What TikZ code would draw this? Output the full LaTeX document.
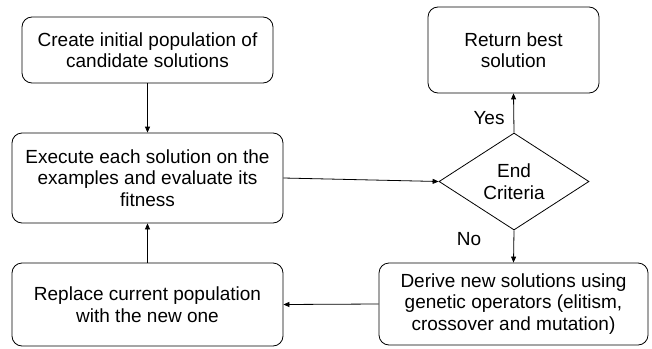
\documentclass[tikz,border=0pt]{standalone}
\usepackage{fontspec}
\setmainfont{Liberation Sans}
\usetikzlibrary{shapes.geometric,arrows.meta}
\begin{document}
\begin{tikzpicture}[x=1pt,y=-1pt,
  box/.style={draw,rounded corners=10pt,line width=0.8pt,align=center,inner sep=0pt,
    font=\fontsize{19}{21.5}\selectfont},
  lbl/.style={font=\fontsize{19}{21.5}\selectfont},
  arr/.style={-{Triangle[length=6pt,width=5pt]},line width=0.8pt}]
\useasboundingbox (0,0) rectangle (652,348);
\node[box,minimum width=251pt,minimum height=66pt] (create) at (147.5,50) {Create initial population of\\candidate solutions};
\node[box,minimum width=271pt,minimum height=90pt] (exec) at (147.5,178) {Execute each solution on the\\examples and evaluate its\\fitness};
\node[box,minimum width=271pt,minimum height=83pt] (replace) at (147.5,304.5) {Replace current population\\with the new one};
\node[box,minimum width=171pt,minimum height=86pt] (ret) at (513.5,50) {Return best\\solution};
\node[box,minimum width=269pt,minimum height=82pt] (derive) at (513.5,304) {Derive new solutions using\\genetic operators (elitism,\\crossover and mutation)};
\node[draw,diamond,line width=0.8pt,minimum width=150pt,minimum height=97pt,inner sep=0pt,align=center,
  font=\fontsize{19}{21.5}\selectfont,aspect=1.55] (end) at (514,181.5) {End\\Criteria};
\draw[arr] (create) -- (exec);
\draw[arr] (replace) -- (exec);
\draw[arr] (exec.east) -- (end.west);
\draw[arr] (end.north) -- (ret.south);
\draw[arr] (end.south) -- (derive.north);
\draw[arr] (derive.west) -- (replace.east);
\node[lbl] (yes) at (489,118) {Yes};
\node[lbl] (no) at (469,239) {No};
\end{tikzpicture}
\end{document}
